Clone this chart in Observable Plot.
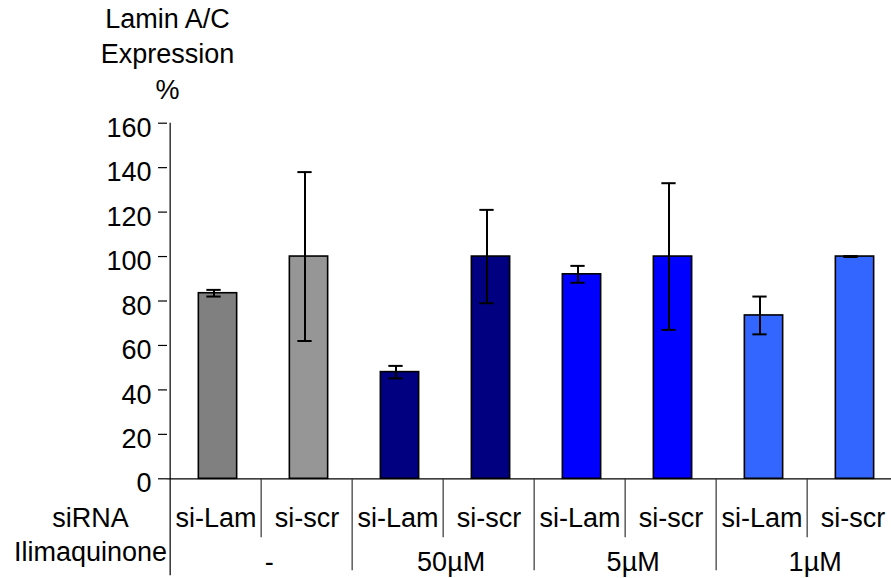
<!DOCTYPE html>
<html>
<head>
<meta charset="utf-8">
<script src="https://cdn.jsdelivr.net/npm/d3@7"></script>
<script src="https://cdn.jsdelivr.net/npm/@observablehq/plot@0.6"></script>
<style>
  html, body { margin: 0; padding: 0; background: #fff; }
  svg { display: block; }
</style>
</head>
<body>
<div id="chart"></div>
<script>
// ---- data ----
const barIds = ["1", "2", "3", "4", "5", "6", "7", "8"];
const sirna = ["si-Lam", "si-scr", "si-Lam", "si-scr", "si-Lam", "si-scr", "si-Lam", "si-scr"];
const values = [83.5, 100, 48, 100, 92, 100, 73.5, 100];
const errors = [1.5, 38, 2.8, 21, 3.8, 33, 8.5, 0.2];
const barColors = ["#808080", "#969696", "#000080", "#000080", "#0000ff", "#0000ff", "#3366ff", "#3366ff"];
const groupLabels = ["-", "50µM", "5µM", "1µM"];
const groupLastBar = ["2", "4", "6", "8"];
const yTicks = [0, 20, 40, 60, 80, 100, 120, 140, 160];
const titleText = "Lamin A/C\nExpression\n%";
const rowLabels = ["siRNA", "Ilimaquinone"];

const data = barIds.map((id, i) => ({
  id, sirna: sirna[i], value: values[i], err: errors[i],
  lo: values[i] - errors[i], hi: values[i] + errors[i], color: barColors[i]
}));
const groups = groupLabels.map((label, i) => ({label, id: groupLastBar[i]}));
const innerSeps = barIds.filter((d, i) => i % 2 === 1);
const groupSeps = barIds.filter((d, i) => i > 0 && i % 2 === 0);

// ---- layout ----
const W = 891, H = 578;
const left = 167, right = 900.6;
const bw = (right - left) / barIds.length;
const barInset = (bw - 39) / 2;
const capInset = (bw - 15) / 2;
const font = "'Liberation Sans', Arial, Helvetica, sans-serif";

const chart = Plot.plot({
  width: W,
  height: H,
  marginLeft: left,
  marginRight: 0,
  marginTop: 122.7,
  marginBottom: H - 478.3,
  style: {fontFamily: font, fontSize: "27px", color: "#000", background: "#fff"},
  x: {type: "band", domain: barIds, range: [left, right], padding: 0, axis: null},
  y: {domain: [0, 160], axis: null},
  color: {type: "identity"},
  marks: [
    Plot.axisY({ticks: yTicks, tickSize: 9, text: null, stroke: "#000", strokeWidth: 1.2}),
    Plot.axisY({ticks: yTicks, tickSize: 0, tickPadding: 16, dy: 5, label: null, fill: "#000"}),
    Plot.barY(data, {x: "id", y: "value", fill: "color", stroke: "#000", strokeWidth: 1.6,
      insetLeft: barInset + 2, insetRight: barInset - 2}),
    Plot.ruleX(data, {x: "id", y1: "lo", y2: "hi", stroke: "#000", strokeWidth: 2, dx: -2}),
    Plot.tickY(data, {x: "id", y: "lo", stroke: "#000", strokeWidth: 2, insetLeft: capInset - 2, insetRight: capInset + 2}),
    Plot.tickY(data, {x: "id", y: "hi", stroke: "#000", strokeWidth: 2, insetLeft: capInset - 2, insetRight: capInset + 2}),
    Plot.ruleY([0], {stroke: "#000", strokeWidth: 1.2}),
    Plot.ruleX([barIds[0]], {x: d => d, y1: 160, y2: 0, dx: -bw / 2, insetBottom: -97, stroke: "#000", strokeWidth: 1.2}),
    Plot.ruleX(innerSeps, {x: d => d, y1: 0, y2: 0, dx: -bw / 2, insetBottom: -59, stroke: "#333", strokeWidth: 1.2}),
    Plot.ruleX(groupSeps, {x: d => d, y1: 0, y2: 0, dx: -bw / 2, insetBottom: -92, stroke: "#333", strokeWidth: 1.2}),
    Plot.text(data, {x: "id", text: "sirna", frameAnchor: "bottom", dy: 48, fill: "#000"}),
    Plot.text(groups, {x: "id", text: "label", frameAnchor: "bottom", dx: -bw / 2 + 8, dy: 92, fill: "#000"}),
    Plot.text([rowLabels[0]], {frameAnchor: "bottom-left", dx: -77, dy: 48, textAnchor: "middle", fill: "#000"}),
    Plot.text([rowLabels[1]], {frameAnchor: "bottom-left", dx: -77, dy: 82, textAnchor: "middle", fill: "#000"}),
    Plot.text([titleText], {frameAnchor: "top-left", dx: 0, dy: -71, textAnchor: "middle", lineAnchor: "middle", lineHeight: 1.3, fill: "#000"})
  ]
});
document.getElementById("chart").appendChild(chart);
</script>
</body>
</html>
